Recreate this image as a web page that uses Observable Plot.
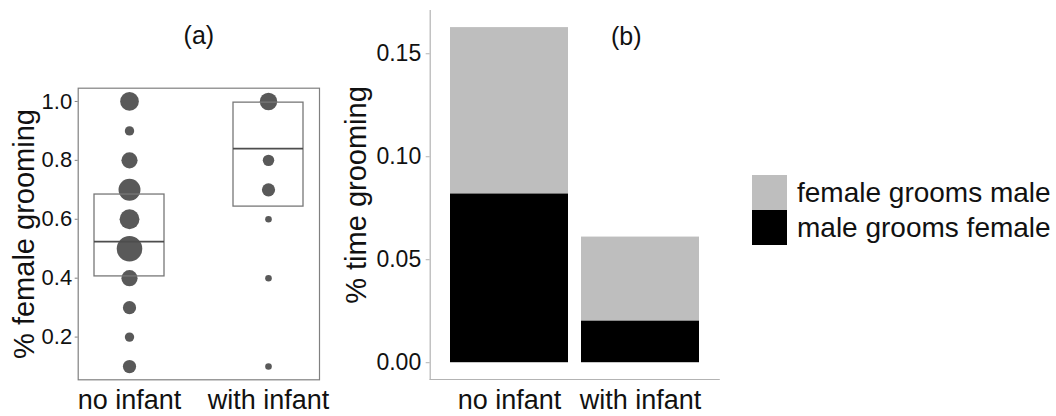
<!DOCTYPE html>
<html><head><meta charset="utf-8">
<script src="https://cdn.jsdelivr.net/npm/d3@7"></script>
<script src="https://cdn.jsdelivr.net/npm/@observablehq/plot@0.6"></script>
<style>
body{margin:0;background:#fff;}
#wrap{position:relative;width:1056px;height:416px;font-family:"Liberation Sans",Arial,sans-serif;color:#111;}
#wrap svg{position:absolute;top:0;overflow:visible;background:transparent;}
#legend{position:absolute;left:752px;top:175px;font-size:28px;}
.row{display:flex;align-items:center;height:35px;}
.sw{width:35px;height:35px;margin-right:10px;}
</style></head><body><div id="wrap"></div>
<script>
// categories
const groups = ["no infant", "with infant"];
// panel (a): proportion of female grooming, with number of observations at each value
const noInfantValues = [1.0, 0.9, 0.8, 0.7, 0.6, 0.5, 0.4, 0.3, 0.2, 0.1];
const noInfantCounts = [8, 2, 6, 11, 9, 15, 6, 4, 2, 4];
const withInfantValues = [1.0, 0.8, 0.7, 0.6, 0.4, 0.1];
const withInfantCounts = [7, 3, 4, 1, 1, 1];
// panel (a): box low / middle / high
const boxLow = [0.406, 0.643];
const boxMid = [0.524, 0.840];
const boxHigh = [0.684, 0.996];
// panel (b): stacked time grooming
const seriesNames = ["male grooms female", "female grooms male"];
const maleGroomsFemale = [0.082, 0.0203];
const femaleGroomsMale = [0.0807, 0.0407];
const seriesColors = ["#000000", "#bebebe"];
// tick labels
const ticksA = [0.2, 0.4, 0.6, 0.8, 1.0];
const ticksB = [0, 0.05, 0.10, 0.15];

const FONT = '"Liberation Sans", Arial, sans-serif';
const TXT = "#111111";

const dots = [
  ...noInfantValues.map((v, i) => ({group: groups[0], value: v, n: noInfantCounts[i]})),
  ...withInfantValues.map((v, i) => ({group: groups[1], value: v, n: withInfantCounts[i]}))
];
const boxes = groups.map((g, i) => ({group: g, lo: boxLow[i], mid: boxMid[i], hi: boxHigh[i]}));
const bars = [];
groups.forEach((g, i) => {
  bars.push({group: g, series: seriesNames[0], value: maleGroomsFemale[i]});
  bars.push({group: g, series: seriesNames[1], value: femaleGroomsMale[i]});
});

const wrap = document.getElementById("wrap");

const plotA = Plot.plot({
  width: 335, height: 416,
  marginLeft: 77.7, marginRight: 16, marginTop: 87.7, marginBottom: 36.7,
  style: {fontFamily: FONT, background: "transparent", overflow: "visible", color: TXT},
  x: {domain: groups, paddingInner: 0.5, paddingOuter: 0.112, axis: null},
  y: {domain: [0.055, 1.045], axis: null},
  r: {type: "sqrt", domain: [0, 15], range: [0, 12.8]},
  marks: [
    Plot.dot(dots, {x: "group", y: "value", r: "n", fill: "#595959", stroke: "none"}),
    Plot.barY(boxes, {x: "group", y1: "lo", y2: "hi", fill: "none", stroke: "#777777", strokeWidth: 1.3}),
    Plot.tickY(boxes, {x: "group", y: "mid", stroke: "#4d4d4d", strokeWidth: 1.6}),
    Plot.frame({stroke: "#808080", strokeWidth: 1.2}),
    Plot.axisY({ticks: ticksA, tickFormat: ".1f", tickSize: 3, tickPadding: 3, fontSize: 22, label: null, stroke: "#808080"}),
    Plot.axisX({tickSize: 0, tickPadding: 10, fontSize: 27, label: null}),
    Plot.text(["% female grooming"], {frameAnchor: "left", textAnchor: "middle", rotate: -90, dx: -53, fontSize: 29, fill: TXT}),
    Plot.text(["(a)"], {frameAnchor: "top", dy: -62, fontSize: 25, fill: TXT})
  ]
});
plotA.style.left = "0px";
wrap.appendChild(plotA);

const plotB = Plot.plot({
  width: 385, height: 416,
  marginLeft: 94.7, marginRight: 1.3, marginTop: 10, marginBottom: 37,
  style: {fontFamily: FONT, background: "transparent", overflow: "visible", color: TXT},
  x: {domain: groups, paddingInner: 0.1, paddingOuter: 0.149, axis: null},
  y: {domain: [-0.00815, 0.171], axis: null},
  color: {domain: seriesNames, range: seriesColors},
  marks: [
    Plot.barY(bars, {x: "group", y: "value", fill: "series", order: seriesNames}),
    Plot.frame({anchor: "left", stroke: "#b3b3b3", strokeWidth: 1.2}),
    Plot.frame({anchor: "bottom", stroke: "#b3b3b3", strokeWidth: 1.2}),
    Plot.axisY({ticks: ticksB, tickFormat: ".2f", tickSize: 4, tickPadding: 5, fontSize: 23, label: null, stroke: "#b3b3b3"}),
    Plot.axisX({tickSize: 0, tickPadding: 10, fontSize: 27, label: null}),
    Plot.text(["% time grooming"], {frameAnchor: "left", textAnchor: "middle", rotate: -90, dx: -73, fontSize: 29, fill: TXT}),
    Plot.text(["(b)"], {frameAnchor: "top-right", dx: -77.7, dy: 17, fontSize: 25, fill: TXT})
  ]
});
plotB.style.left = "335px";
wrap.appendChild(plotB);

// legend (top entry is the upper stack segment)
const legend = document.createElement("div");
legend.id = "legend";
[1, 0].forEach(i => {
  const row = document.createElement("div");
  row.className = "row";
  const sw = document.createElement("div");
  sw.className = "sw";
  sw.style.background = seriesColors[i];
  const label = document.createElement("span");
  label.textContent = seriesNames[i];
  row.appendChild(sw);
  row.appendChild(label);
  legend.appendChild(row);
});
wrap.appendChild(legend);
</script></body></html>
